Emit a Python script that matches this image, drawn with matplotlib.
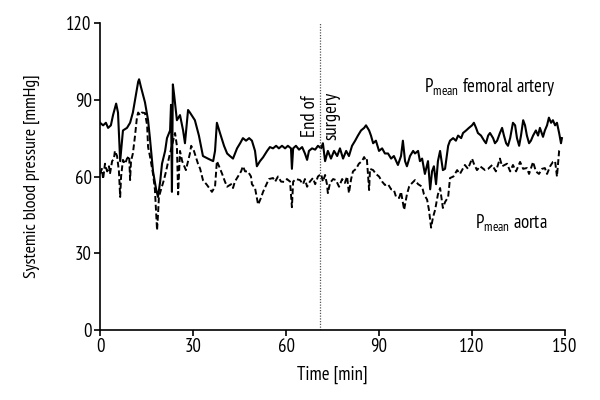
import matplotlib
matplotlib.use("Agg")
import matplotlib.pyplot as plt

plt.rcParams.update({
    "font.family": ["PT Sans Narrow", "Fira Sans Condensed", "Roboto Condensed",
                    "IBM Plex Sans Condensed", "DejaVu Sans"],
    "font.size": 13,
})

# P mean femoral artery (solid)
fem_t = [0.0, 1.0, 1.9, 2.6, 3.5, 4.2, 5.2, 5.8, 6.5, 7.4, 8.7, 9.7, 10.6, 11.6, 12.3, 12.6,
         13.2, 14.5, 15.5, 16.1, 17.1, 18.1, 18.7, 19.4, 20.0, 21.0, 21.6, 22.6, 22.9, 23.2,
         23.5, 23.9, 24.8, 25.8, 26.8, 27.4, 28.4, 29.0, 30.6, 31.9, 33.2, 34.8, 36.5, 37.1,
         37.7, 38.7, 40.0, 41.0, 41.9, 42.9, 44.2, 45.2, 46.1, 47.1, 48.1, 49.0, 50.0, 50.6,
         51.6, 52.6, 53.9, 54.8, 55.8, 56.8, 57.7, 58.7, 59.7, 60.6, 61.6, 61.9, 62.3, 63.2,
         64.2, 65.2, 66.1, 66.8, 67.4, 68.4, 69.4, 70.3, 71.3, 71.9, 72.6, 73.5, 74.5, 75.5,
         76.5, 77.4, 78.4, 79.4, 80.3, 81.3, 82.3, 83.2, 84.2, 85.2, 85.8, 86.8, 87.4, 88.1,
         89.0, 90.0, 91.0, 91.9, 92.9, 93.9, 94.8, 96.1, 97.1, 97.7, 98.4, 99.0, 100.0, 101.0,
         101.6, 102.6, 103.2, 103.9, 104.8, 105.8, 106.5, 107.1, 107.7, 108.4, 109.0, 109.7,
         110.6, 111.3, 112.3, 112.9, 113.9, 114.8, 115.5, 116.5, 117.1, 118.1, 119.0, 120.0,
         120.6, 121.3, 121.9, 122.9, 123.9, 124.5, 125.2, 125.8, 126.8, 127.4, 128.1, 129.0,
         129.7, 130.3, 131.0, 131.6, 132.3, 133.2, 133.9, 134.5, 135.2, 135.8, 136.5, 137.1,
         137.7, 138.4, 139.0, 139.7, 140.6, 141.3, 141.9, 142.9, 143.5, 144.2, 144.8, 145.5,
         146.1, 146.8, 147.4, 148.1, 148.7, 149.0]
fem_p = [81, 80, 81, 79, 80, 84, 88.5, 85, 66, 78, 79, 81, 85, 92, 97, 98,
         95, 89, 82, 75, 62, 55, 52, 58, 65, 70, 75, 78, 88, 54,
         96, 92, 82, 84, 78, 73, 86, 85, 82, 76, 68, 67, 66, 70,
         81, 77, 72, 69, 68, 67, 71, 73, 75, 74, 75, 74, 70, 64,
         66, 67.5, 70, 71.5, 71, 72, 71, 72, 71, 72, 71, 63, 71, 72,
         70.5, 71.5, 69, 66.5, 70, 71, 70.5, 72, 71, 73, 66, 70, 67, 70,
         68, 71, 67, 70, 68, 72, 74, 76, 78, 79, 80, 78, 76, 73,
         74, 70, 71, 69, 69, 67, 68, 64.5, 68, 74, 66, 64, 68, 70,
         69, 70, 66, 67, 61, 66, 55, 62, 64, 57, 66, 70,
         62.5, 63, 72, 74, 75, 74, 76, 75, 77, 78, 79, 80,
         81, 79, 77, 76, 74, 73, 76, 77, 75, 73, 74, 77,
         79, 76, 73, 72, 75, 81, 80, 75, 72, 76, 82, 80,
         76, 73, 74, 76, 78, 76, 79, 75.5, 78, 80, 83, 81,
         82, 80, 81, 77, 73, 75]

# P mean aorta (dashed)
aor_t = [0.0, 0.6, 1.0, 1.6, 2.3, 2.9, 3.2, 3.9, 4.5, 4.8, 5.5, 6.1, 6.5, 6.8, 7.4, 8.1,
         8.7, 9.4, 9.7, 10.0, 10.6, 11.3, 11.9, 12.3, 12.9, 13.5, 14.5, 15.2, 15.5, 16.1,
         17.1, 17.7, 18.4, 18.7, 19.0, 19.7, 20.6, 21.3, 22.3, 23.2, 24.2, 24.8, 25.2, 25.8,
         26.5, 27.7, 29.0, 29.4, 30.3, 31.6, 32.3, 33.2, 34.5, 35.5, 36.1, 37.1, 37.7, 38.4,
         39.4, 40.3, 41.0, 42.3, 42.9, 43.5, 44.5, 45.5, 46.1, 46.8, 47.7, 48.7, 49.0, 50.0,
         51.0, 51.9, 52.6, 53.9, 54.5, 55.8, 56.5, 57.4, 58.4, 59.4, 60.3, 61.3, 61.9, 62.3,
         63.2, 64.5, 65.5, 66.1, 66.8, 67.7, 68.7, 69.4, 70.3, 71.3, 71.9, 72.6, 73.2, 73.5,
         74.2, 75.2, 76.1, 77.1, 78.1, 79.0, 79.7, 80.3, 81.0, 81.6, 82.6, 83.5, 84.5, 85.2,
         85.8, 86.1, 86.8, 87.1, 88.1, 89.0, 90.0, 91.0, 91.9, 92.9, 93.9, 94.8, 95.5, 96.5,
         97.1, 98.1, 99.0, 99.7, 100.3, 101.6, 102.6, 103.9, 104.5, 105.5, 106.1, 106.8,
         107.4, 108.1, 109.0, 109.7, 110.6, 111.3, 112.3, 112.9, 114.0, 115.2, 116.1, 117.7,
         118.7, 120.0, 120.6, 121.6, 122.6, 124.2, 125.2, 126.5, 127.7, 129.0, 129.7, 131.3,
         132.3, 133.2, 134.2, 135.5, 136.5, 137.7, 138.4, 139.7, 140.6, 141.6, 142.6, 143.5,
         144.2, 145.2, 146.1, 146.8, 147.4, 148.1, 148.7]
aor_p = [61, 63, 59, 65, 62, 64, 61, 66, 67, 70, 68, 62, 52, 60, 66.5, 65,
         67, 68, 58.6, 66, 69, 76, 83, 85, 84, 85, 84.8, 80, 71.5, 68,
         61, 55, 39, 45, 52, 55, 58.6, 62, 67.6, 72, 77, 72, 53, 70,
         66, 62.5, 69, 72, 70, 65, 63, 58.6, 56.7, 55, 54, 56, 66, 64,
         61, 58, 56, 57, 55.5, 58, 60, 62, 64, 62, 62, 60, 57, 55.5,
         49, 51.6, 54, 57.5, 59, 59.4, 58, 60, 58, 57.9, 59, 58, 48, 58,
         59, 58.6, 57, 59, 56, 58, 59.4, 57, 60, 61, 58, 60.6, 57, 53.5,
         57.5, 59, 58.6, 56, 59, 57.5, 60, 53.5, 59, 62, 63, 65, 66, 67.6,
         66, 66.5, 54.7, 63, 62.5, 61, 60, 58, 56.7, 57, 55, 54.7, 52, 51.6,
         54, 47, 53, 56, 57, 58.6, 57, 56, 53, 51, 47, 40,
         44, 47, 53, 55.5, 47.7, 50, 52, 59.4, 60, 62.5, 61, 64.5,
         63, 67, 65, 62.5, 64, 62.5, 63, 64.5, 62, 67, 64, 65,
         62, 64.5, 62, 65.7, 63, 63.3, 61, 65.7, 62, 61, 63, 63.3,
         61, 64, 65.7, 66, 60, 70, 71]

x_ticks = [0, 30, 60, 90, 120, 150]
y_ticks = [0, 30, 60, 90, 120]
surgery_end = 71

fig = plt.figure(figsize=(6, 4), dpi=100)
ax = fig.add_axes([0.1667, 0.175, 0.775, 0.7675])

ax.plot(fem_t, fem_p, color="black", lw=1.5)
ax.plot(aor_t, aor_p, color="black", lw=1.4, linestyle=(0, (3, 1.5)))
ax.axvline(surgery_end, color="#555555", lw=0.9, linestyle=(0, (1, 1.2)))

ax.text(surgery_end + 0.3, 93, "End of\nsurgery", rotation=90, ha="center", va="top",
        multialignment="center", fontsize=13.5, linespacing=1.25)
ax.text(104.5, 93, r"P$_\mathregular{mean}$ femoral artery", fontsize=13.5, va="baseline")
ax.text(121.0, 39.5, r"P$_\mathregular{mean}$ aorta", fontsize=13.5, va="baseline")

ax.set_xlim(0, 150)
ax.set_ylim(0, 120)
ax.set_xticks(x_ticks)
ax.set_yticks(y_ticks)
ax.set_xlabel("Time [min]", fontsize=13.5, labelpad=7)
ax.set_ylabel("Systemic blood pressure [mmHg]", fontsize=13, labelpad=19)

ax.spines["top"].set_visible(False)
ax.spines["right"].set_visible(False)
ax.spines["bottom"].set_linewidth(1.2)
ax.spines["left"].set_linewidth(1.2)
ax.tick_params(direction="out", length=4, width=1.2, labelsize=13.5, pad=2)

fig.savefig("out.png", dpi=100)
